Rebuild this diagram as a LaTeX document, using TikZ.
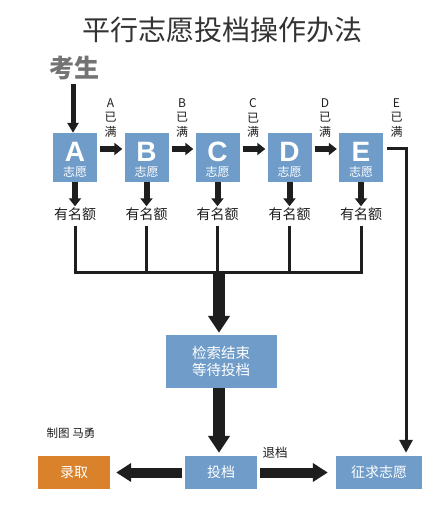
\documentclass[tikz,border=0pt]{standalone}
\usepackage{fontspec}
\newfontfamily\cjk{Noto Sans CJK SC}
\newfontfamily\latb{Liberation Sans}
\usetikzlibrary{arrows.meta,calc}
\definecolor{boxblue}{HTML}{6F9CC9}
\definecolor{boxorange}{HTML}{D9822B}
\definecolor{ink}{HTML}{1E1E1E}
\tikzset{
  vbox/.style={fill=boxblue,minimum width=44pt,minimum height=49pt,inner sep=0pt},
  fbox/.style={fill=boxblue,minimum width=#1,minimum height=33pt,inner sep=0pt,text=white,font=\cjk\fontsize{14}{16}\selectfont},
  letter/.style={text=white,font=\latb\bfseries\fontsize{28}{28}\selectfont,inner sep=0pt},
  zy/.style={text=white,font=\cjk\fontsize{12}{12}\selectfont,inner sep=0pt},
  vlabel/.style={font=\cjk\fontsize{12}{14.5}\selectfont,align=center,inner sep=0pt,text=ink},
  ymz/.style={font=\cjk\fontsize{14}{14}\selectfont,inner sep=0pt,text=ink},
  smallarrow/.style={draw=ink,line width=6pt,-{Triangle[width=12pt,length=8pt]}},
  bigarrow/.style={draw=ink,line width=12pt,-{Triangle[width=21pt,length=17pt]}},
  medarrow/.style={draw=ink,line width=10pt,-{Triangle[width=18pt,length=15pt]}},
  joinline/.style={draw=ink,line width=3pt},
}
\begin{document}
\begin{tikzpicture}[x=1pt,y=-1pt]
\useasboundingbox (0,0) rectangle (436,513);
\fill[white] (0,0) rectangle (436,513);
% title
\node[font=\cjk\fontsize{28}{28}\selectfont,text=black!80,inner sep=0pt] (title) at (222,30) {平行志愿投档操作办法};
\node[font=\cjk\bfseries\fontsize{25}{25}\selectfont,text=black!55,inner sep=0pt] (ks) at (74,68) {考生};
% boxes
\foreach \n/\x in {A/75,B/146.5,C/217.5,D/289.5,E/361}{
  \node[vbox] (\n) at (\x,157.5) {};
  \node[letter] at ($(\n.center)+(0,-6)$) {\n};
  \node[zy] at ($(\n.center)+(0,14)$) {志愿};
  \node[ymz] (y\n) at (\x,214) {有名额};
  \coordinate (j\n) at (\x,272);
  \node[vlabel] (l\n) at (\x+35.5,118) {\n\\已\\满};
}
% 考生 arrow
\coordinate (k1) at (73,84);
\draw[draw=ink,line width=5pt,-{Triangle[width=11pt,length=10pt]}] (k1) -- (k1 |- A.north);
% horizontal arrows
\foreach \a/\b in {A/B,B/C,C/D,D/E}{
  \draw[smallarrow,shorten <=3pt,shorten >=2pt] ([yshift=8.5pt]\a.east) -- ([yshift=8.5pt]\b.west);
}
% down arrows and join lines
\foreach \n in {A,B,C,D,E}{
  \draw[smallarrow,shorten >=1pt] (\n.south) -- (y\n.north);
  \draw[joinline,shorten <=5pt] (y\n.south) -- (j\n);
}
\draw[joinline,line cap=rect] (jA) -- (jE);
% E line
\coordinate (ec) at (406,149);
% lower boxes
\node[fbox=111pt,minimum height=53pt,align=center,font=\cjk\fontsize{14.5}{17.5}\selectfont] (srch) at (221,361.5) {检索结束\\等待投档};
\node[fbox=72pt] (tou) at (221,472.5) {投档};
\node[fbox=72pt,fill=boxorange] (lq) at (74,472.5) {录取};
\node[fbox=86pt] (zq) at (379,472.5) {征求志愿};
\coordinate (jm) at (219,272);
\draw[bigarrow,shorten >=2pt] (jm) -- (jm |- srch.north);
\draw[bigarrow,shorten >=3pt] (srch.south -| jm) -- (jm |- tou.north);
\draw[medarrow,shorten <=3pt,shorten >=6pt] (tou.west) -- (lq.east);
\draw[medarrow,shorten <=3pt,shorten >=8pt] (tou.east) -- (zq.west);
\draw[draw=ink,line width=3pt,-{Triangle[width=13pt,length=13pt]},shorten >=3pt] ([xshift=4pt,yshift=8.5pt]E.east) -- (ec) -- (ec |- zq.north);
\node[font=\cjk\fontsize{12.5}{12.5}\selectfont,inner sep=0pt,text=ink] (td) at (275,453) {退档};
\node[font=\cjk\fontsize{11.5}{11.5}\selectfont,inner sep=0pt,text=ink] (zt) at (71,433) {制图 马勇};
\end{tikzpicture}
\end{document}
